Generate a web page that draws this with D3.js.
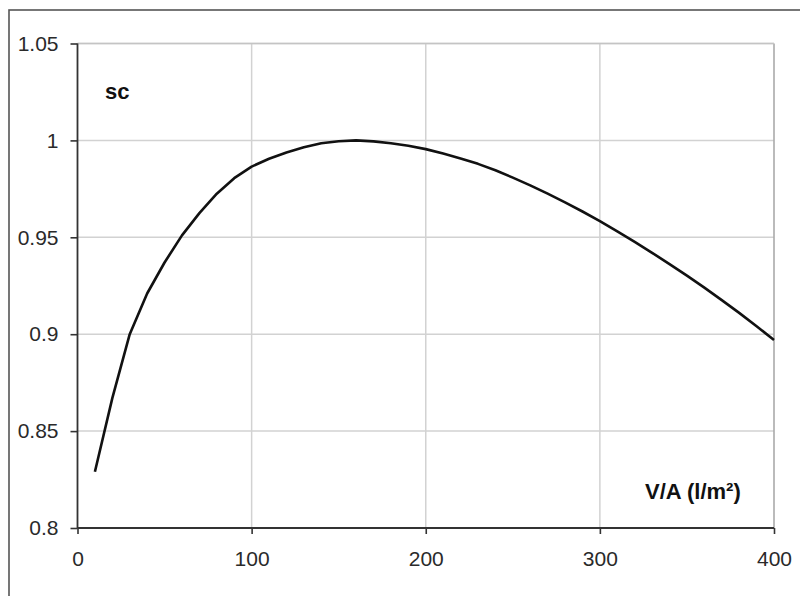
<!DOCTYPE html>
<html>
<head>
<meta charset="utf-8">
<script src="https://cdn.jsdelivr.net/npm/d3@7"></script>
<style>
  html, body { margin: 0; padding: 0; background: #fff; }
  svg { display: block; }
</style>
</head>
<body>
<svg id="chart" width="800" height="596"></svg>
<script>
// ---- data ----
const xValues = [10, 20, 30, 40, 50, 60, 70, 80, 90, 100,
                 110, 120, 130, 140, 150, 160, 170, 180, 190, 200,
                 210, 220, 230, 240, 250, 260, 270, 280, 290, 300,
                 310, 320, 330, 340, 350, 360, 370, 380, 390, 400];
const scValues = [0.829, 0.867, 0.900, 0.921, 0.937, 0.951, 0.9625, 0.9725, 0.9805, 0.9865,
                  0.9905, 0.9938, 0.9965, 0.9985, 0.9996, 1.000, 0.9995, 0.9985, 0.9972, 0.9955,
                  0.9932, 0.9907, 0.9879, 0.9846, 0.9808, 0.9768, 0.9725, 0.9680, 0.9633, 0.9584,
                  0.9531, 0.9476, 0.9420, 0.9362, 0.9302, 0.9240, 0.9176, 0.9110, 0.9041, 0.8970];
const xTicks = [0, 100, 200, 300, 400];
const xTickLabels = ["0", "100", "200", "300", "400"];
const yTicks = [0.8, 0.85, 0.9, 0.95, 1, 1.05];
const yTickLabels = ["0.8", "0.85", "0.9", "0.95", "1", "1.05"];
const seriesLabel = "sc";
const xAxisLabel = "V/A (l/m²)";

// ---- layout ----
const svg = d3.select("#chart");
const pLeft = 77.5, pRight = 774, pTop = 43.5, pBottom = 528;
const x = d3.scaleLinear().domain([0, 400]).range([pLeft, pRight]);
const y = d3.scaleLinear().domain([0.8, 1.05]).range([pBottom, pTop]);
const font = "'Liberation Sans', Arial, sans-serif";

// outer frame
svg.append("rect")
  .attr("x", 9).attr("y", 10)
  .attr("width", 820).attr("height", 620)
  .attr("fill", "none").attr("stroke", "#555").attr("stroke-width", 1.6);

// gridlines
svg.append("g").selectAll("line")
  .data(xTicks.filter(d => d > 0 && d < 400)).join("line")
  .attr("x1", d => x(d)).attr("x2", d => x(d))
  .attr("y1", pTop).attr("y2", pBottom)
  .attr("stroke", "#d2d2d2").attr("stroke-width", 1.5);
svg.append("g").selectAll("line")
  .data(yTicks.filter(d => d > 0.8)).join("line")
  .attr("x1", pLeft).attr("x2", pRight)
  .attr("y1", d => y(d)).attr("y2", d => y(d))
  .attr("stroke", "#d2d2d2").attr("stroke-width", 1.5);

// plot border right and top (grey)
svg.append("line").attr("x1", pRight).attr("x2", pRight).attr("y1", pTop).attr("y2", pBottom)
  .attr("stroke", "#aaa").attr("stroke-width", 1.6);
svg.append("line").attr("x1", pLeft).attr("x2", pRight).attr("y1", pTop).attr("y2", pTop)
  .attr("stroke", "#c4c4c4").attr("stroke-width", 1.5);

// axes
const yAxis = d3.axisLeft(y).tickValues(yTicks).tickSize(7).tickPadding(12)
  .tickFormat((d, i) => yTickLabels[i]);
const xAxis = d3.axisBottom(x).tickValues(xTicks).tickSize(6).tickPadding(17)
  .tickFormat((d, i) => xTickLabels[i]);

const gy = svg.append("g").attr("transform", `translate(${pLeft},0)`).call(yAxis);
const gx = svg.append("g").attr("transform", `translate(0,${pBottom})`).call(xAxis);
[gx, gy].forEach(g => {
  g.select(".domain").attr("stroke", "#333").attr("stroke-width", 1.8);
  g.selectAll(".tick line").attr("stroke", "#333").attr("stroke-width", 1.6);
  g.selectAll(".tick text").attr("fill", "#2a2a2a")
    .style("font-family", font).style("font-size", "21px");
});
gy.select(".domain").attr("d", `M0,${pTop}V${pBottom}`);
gx.select(".domain").attr("d", `M${pLeft},0H${pRight}`);

// curve
const line = d3.line().x((d, i) => x(xValues[i])).y(d => y(d));
svg.append("path")
  .datum(scValues)
  .attr("d", line)
  .attr("fill", "none").attr("stroke", "#111").attr("stroke-width", 2.6)
  .attr("stroke-linejoin", "round");

// labels
svg.append("text").attr("x", 105).attr("y", 99)
  .style("font-family", font).style("font-size", "22px").style("font-weight", "bold")
  .attr("fill", "#111").text(seriesLabel);
svg.append("text").attr("x", 645).attr("y", 499)
  .style("font-family", font).style("font-size", "22px").style("font-weight", "bold")
  .attr("fill", "#111").text(xAxisLabel);
</script>
</body>
</html>
